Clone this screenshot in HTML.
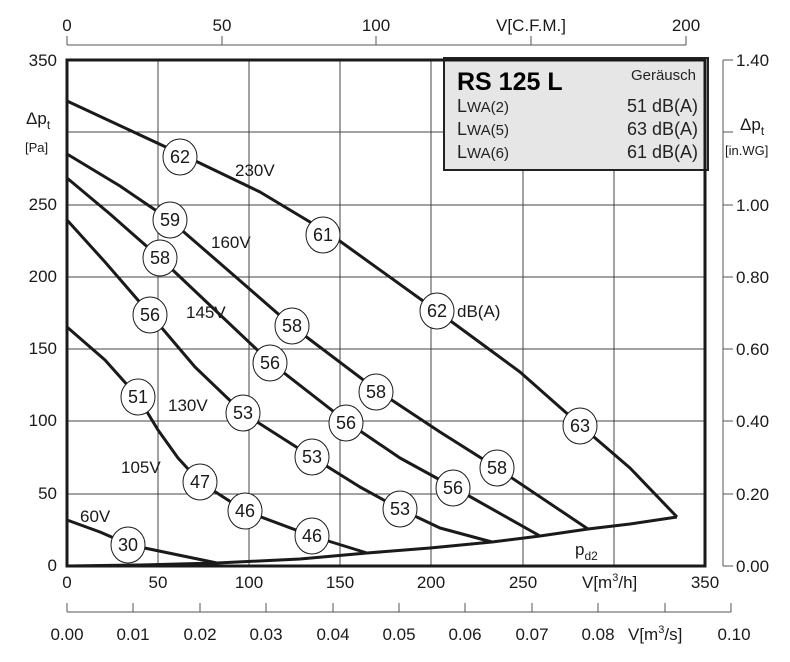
<!DOCTYPE html>
<html><head><meta charset="utf-8"><style>
html,body{margin:0;padding:0;background:#fff;}
svg{display:block;font-family:"Liberation Sans",sans-serif;}
</style></head><body>
<svg width="790" height="662" viewBox="0 0 790 662" xmlns="http://www.w3.org/2000/svg">
<rect width="790" height="662" fill="#fff"/>
<g stroke="#444" stroke-width="1">
<line x1="158" y1="60" x2="158" y2="566"/><line x1="249" y1="60" x2="249" y2="566"/>
<line x1="340" y1="60" x2="340" y2="566"/><line x1="431" y1="60" x2="431" y2="566"/>
<line x1="523" y1="60" x2="523" y2="566"/><line x1="614" y1="60" x2="614" y2="566"/>
<line x1="67" y1="494" x2="705" y2="494"/><line x1="67" y1="421" x2="705" y2="421"/>
<line x1="67" y1="349" x2="705" y2="349"/><line x1="67" y1="277" x2="705" y2="277"/>
<line x1="67" y1="205" x2="705" y2="205"/><line x1="67" y1="132" x2="705" y2="132"/>
</g>
<rect x="444" y="58" width="264" height="112" fill="#e6e6e6" stroke="#222" stroke-width="2"/>
<text x="457" y="90" font-size="25" font-weight="bold">RS 125 L</text>
<text x="696" y="80" font-size="15" text-anchor="end" fill="#222">Geräusch</text>
<g font-size="18" fill="#222">
<text x="457" y="112">L<tspan font-size="15">WA(2)</tspan></text><text x="457" y="135">L<tspan font-size="15">WA(5)</tspan></text><text x="457" y="158">L<tspan font-size="15">WA(6)</tspan></text>
<text x="698" y="112" text-anchor="end">51 dB(A)</text><text x="698" y="135" text-anchor="end">63 dB(A)</text><text x="698" y="158" text-anchor="end">61 dB(A)</text>
</g>
<rect x="67" y="60" width="638" height="506" fill="none" stroke="#1a1a1a" stroke-width="3"/>
<g fill="none" stroke="#1a1a1a" stroke-width="3" stroke-linejoin="round">
<polyline points="67,101 183,155 260,192 330,234 437,311 520,372 580,425 630,468 677,517"/>
<polyline points="67,154 120,186 170,220 230,272 292,326 378,391 440,432 497,468 588,529"/>
<polyline points="67,178 110,214 160,258 215,310 270,362 347,422 400,458 453,487 540,536"/>
<polyline points="67,220 105,262 150,314 195,367 243,413 312,457 360,487 400,509 440,528 492,542"/>
<polyline points="67,327 105,360 138,397 158,430 178,458 200,482 245,511 312,536 367,553"/>
<polyline points="67,520 100,532 130,545 217,563"/>
<polyline points="67,566 140,565 217,563 300,559 367,553 430,548 492,542 540,536 588,529 630,524 677,517"/>
</g>
<g font-size="18" text-anchor="middle" fill="#1a1a1a">
<g stroke="#1a1a1a" stroke-width="1" fill="#fff">
<ellipse cx="180" cy="157" rx="17" ry="18"/><ellipse cx="323" cy="235" rx="17" ry="18"/><ellipse cx="437" cy="311" rx="17" ry="18"/><ellipse cx="580" cy="426" rx="17" ry="18"/>
<ellipse cx="170" cy="220" rx="17" ry="18"/><ellipse cx="292" cy="326" rx="17" ry="18"/><ellipse cx="376" cy="392" rx="17" ry="18"/><ellipse cx="497" cy="468" rx="17" ry="18"/>
<ellipse cx="160" cy="258" rx="17" ry="18"/><ellipse cx="270" cy="363" rx="17" ry="18"/><ellipse cx="346" cy="423" rx="17" ry="18"/><ellipse cx="453" cy="488" rx="17" ry="18"/>
<ellipse cx="150" cy="315" rx="17" ry="18"/><ellipse cx="243" cy="413" rx="17" ry="18"/><ellipse cx="312" cy="457" rx="17" ry="18"/><ellipse cx="400" cy="509" rx="17" ry="18"/>
<ellipse cx="138" cy="397" rx="17" ry="18"/><ellipse cx="200" cy="482" rx="17" ry="18"/><ellipse cx="245" cy="511" rx="17" ry="18"/><ellipse cx="312" cy="536" rx="17" ry="18"/>
<ellipse cx="128" cy="545" rx="17" ry="18"/>
</g>
<text x="180" y="163">62</text><text x="323" y="241">61</text><text x="437" y="317">62</text><text x="580" y="432">63</text>
<text x="170" y="226">59</text><text x="292" y="332">58</text><text x="376" y="398">58</text><text x="497" y="474">58</text>
<text x="160" y="264">58</text><text x="270" y="369">56</text><text x="346" y="429">56</text><text x="453" y="494">56</text>
<text x="150" y="321">56</text><text x="243" y="419">53</text><text x="312" y="463">53</text><text x="400" y="515">53</text>
<text x="138" y="403">51</text><text x="200" y="488">47</text><text x="245" y="517">46</text><text x="312" y="542">46</text>
<text x="128" y="551">30</text>
</g>
<g font-size="17" fill="#1a1a1a">
<text x="235" y="176">230V</text><text x="211" y="248">160V</text><text x="186" y="318">145V</text>
<text x="168" y="411">130V</text><text x="121" y="473">105V</text><text x="80" y="522">60V</text>
<text x="457" y="317">dB(A)</text>
<text x="575" y="555">p<tspan font-size="12" dy="5">d2</tspan></text>
</g>
<g font-size="17" text-anchor="end" fill="#1a1a1a">
<text x="57" y="66">350</text><text x="57" y="210">250</text><text x="57" y="282">200</text><text x="57" y="354">150</text>
<text x="57" y="426">100</text><text x="57" y="499">50</text><text x="57" y="571">0</text>
</g>
<text x="26" y="124" font-size="17" fill="#1a1a1a">Δp<tspan font-size="12" dy="5">t</tspan></text>
<text x="25" y="152" font-size="13" fill="#1a1a1a">[Pa]</text>
<g font-size="17" text-anchor="middle" fill="#1a1a1a">
<text x="67" y="588">0</text><text x="158" y="588">50</text><text x="249" y="588">100</text><text x="340" y="588">150</text>
<text x="431" y="588">200</text><text x="523" y="588">250</text><text x="705" y="588">350</text>
</g>
<text x="582" y="588" font-size="17" fill="#1a1a1a">V[m<tspan font-size="11" dy="-7">3</tspan><tspan dy="7">/h]</tspan></text>
<g stroke="#555" stroke-width="1"><line x1="67" y1="45" x2="686" y2="45"/>
<line x1="67" y1="45" x2="67" y2="36"/><line x1="222" y1="45" x2="222" y2="36"/><line x1="376" y1="45" x2="376" y2="36"/><line x1="531" y1="45" x2="531" y2="36"/><line x1="686" y1="45" x2="686" y2="36"/></g>
<g font-size="17" text-anchor="middle" fill="#1a1a1a">
<text x="67" y="31">0</text><text x="222" y="31">50</text><text x="376" y="31">100</text><text x="686" y="31">200</text>
<text x="531" y="31">V[C.F.M.]</text>
</g>
<g stroke="#555" stroke-width="1"><line x1="67" y1="612" x2="731" y2="612"/>
<line x1="67" y1="612" x2="67" y2="603"/><line x1="133" y1="612" x2="133" y2="603"/><line x1="200" y1="612" x2="200" y2="603"/><line x1="266" y1="612" x2="266" y2="603"/><line x1="333" y1="612" x2="333" y2="603"/><line x1="399" y1="612" x2="399" y2="603"/><line x1="465" y1="612" x2="465" y2="603"/><line x1="532" y1="612" x2="532" y2="603"/><line x1="598" y1="612" x2="598" y2="603"/><line x1="665" y1="612" x2="665" y2="603"/><line x1="731" y1="612" x2="731" y2="603"/></g>
<g font-size="17" text-anchor="middle" fill="#1a1a1a">
<text x="67" y="640">0.00</text><text x="133" y="640">0.01</text><text x="200" y="640">0.02</text><text x="266" y="640">0.03</text><text x="333" y="640">0.04</text><text x="399" y="640">0.05</text><text x="465" y="640">0.06</text><text x="532" y="640">0.07</text><text x="598" y="640">0.08</text><text x="734" y="640">0.10</text>
</g>
<text x="628" y="640" font-size="17" fill="#1a1a1a">V[m<tspan font-size="11" dy="-7">3</tspan><tspan dy="7">/s]</tspan></text>
<g stroke="#555" stroke-width="1"><line x1="723" y1="60" x2="723" y2="566"/>
<line x1="723" y1="60" x2="733" y2="60"/><line x1="723" y1="132" x2="733" y2="132"/><line x1="723" y1="205" x2="733" y2="205"/><line x1="723" y1="277" x2="733" y2="277"/><line x1="723" y1="349" x2="733" y2="349"/><line x1="723" y1="421" x2="733" y2="421"/><line x1="723" y1="494" x2="733" y2="494"/><line x1="723" y1="566" x2="733" y2="566"/></g>
<g font-size="17" fill="#1a1a1a">
<text x="736" y="66">1.40</text><text x="736" y="211">1.00</text><text x="736" y="283">0.80</text><text x="736" y="355">0.60</text><text x="736" y="427">0.40</text><text x="736" y="500">0.20</text><text x="736" y="572">0.00</text>
</g>
<text x="740" y="130" font-size="17" fill="#1a1a1a">Δp<tspan font-size="12" dy="5">t</tspan></text>
<text x="725" y="155" font-size="13" fill="#1a1a1a">[in.WG]</text>
</svg>
</body></html>
